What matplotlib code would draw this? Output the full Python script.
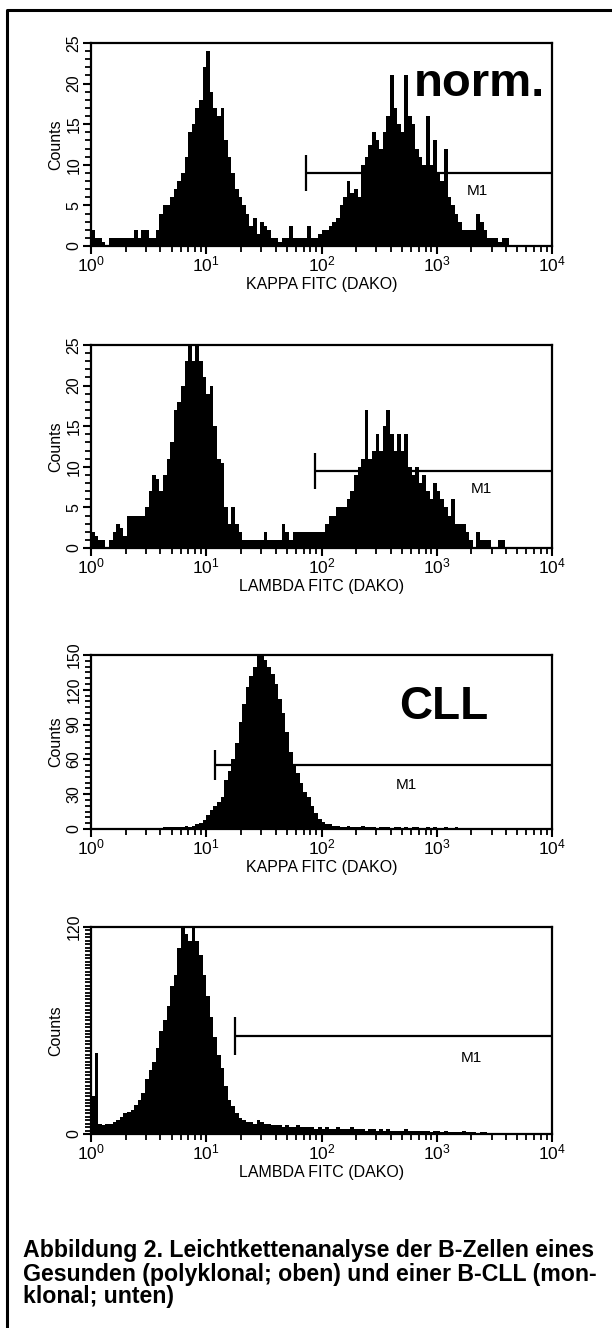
import numpy as np
import matplotlib
matplotlib.use('Agg')
import matplotlib.pyplot as plt
from matplotlib.lines import Line2D
from matplotlib import font_manager
from matplotlib.ticker import FixedLocator, MultipleLocator, LogLocator, NullFormatter

plt.rcParams['font.family'] = ['Liberation Sans', 'DejaVu Sans']
plt.rcParams['mathtext.fontset'] = 'custom'
plt.rcParams['mathtext.rm'] = 'Liberation Sans'
plt.rcParams['mathtext.it'] = 'Liberation Sans'
plt.rcParams['mathtext.bf'] = 'Liberation Sans:bold'

# histogram counts, 128 channels over 10^0 .. 10^4 (32 per decade)
kappa_norm = [2, 1, 1, 0.5, 0, 1, 1, 1, 1, 1,
              1, 1, 2, 1, 2, 2, 1, 1, 2, 4,
              5, 5, 6, 7, 8, 9, 11, 14, 15, 17,
              18, 22, 24, 19, 17, 16, 17, 13, 11, 9,
              7, 6, 5, 4, 2.5, 3.5, 1.5, 3, 2.5, 2,
              1, 1, 0.5, 1, 1, 2.5, 1, 1, 1, 1,
              2.5, 1, 1, 1.5, 2, 2, 2.5, 3, 3.5, 5,
              6, 8, 6.5, 7, 6, 10, 11, 12.5, 14, 13,
              12, 14, 16, 21, 17, 15, 14, 21, 16, 15,
              12, 11, 10, 16, 10, 13, 9, 8, 12, 6,
              5, 4, 3, 2, 2, 2, 2, 4, 3, 2,
              1, 1, 1, 0.5, 1, 1, 0, 0, 0, 0,
              0, 0, 0, 0, 0, 0, 0, 0]
lambda_norm = [2, 1.5, 1, 1, 0, 1, 2, 3, 2.5, 1.5,
               4, 4, 4, 4, 4, 5, 7, 9, 8.5, 7,
               9, 11, 13, 17, 18, 20, 23, 25, 23, 25,
               23, 21, 19, 20, 15, 11, 10.5, 5, 3, 5,
               3, 2, 1, 1, 1, 1, 1, 1, 2, 1,
               1, 1, 1, 3, 2, 1, 2, 2, 2, 2,
               2, 2, 2, 2, 2, 3, 4, 4, 5, 5,
               5, 6, 7, 9, 10, 11, 17, 11, 12, 14,
               12, 15, 17, 14, 12, 14, 12, 14, 10, 9,
               10, 8, 9, 7, 6, 8, 7, 6, 5, 4,
               6, 3, 3, 3, 2, 1, 0, 2, 1, 1,
               1, 0, 0, 1, 1, 0, 0, 0, 0, 0,
               0, 0, 0, 0, 0, 0, 0, 0]
kappa_cll = [0, 0, 0, 0, 0, 0, 0, 0, 0, 0,
             0, 0, 0, 0, 0, 0, 1, 0.5, 1, 1,
             2, 1.5, 2, 2, 2, 2, 2.5, 2, 3, 4,
             5, 8, 12, 16, 20, 23, 28, 42, 50, 60,
             74, 92, 108, 122, 132, 140, 150, 152, 146, 140,
             134, 125, 112, 100, 84, 66, 56, 48, 40, 32,
             28, 20, 14, 9, 6, 4, 4, 3, 3, 2,
             2, 3, 2, 2, 2, 3, 2, 2, 2, 1,
             2, 2, 2, 1, 2, 2, 1, 2, 1, 2,
             2, 1, 1, 2, 1, 2, 1, 1, 2, 1,
             1, 2, 1, 1, 1, 1, 1, 1, 1, 0.5,
             1, 0, 0, 0, 0, 0, 0, 0, 0, 0,
             0, 0, 0, 0, 0, 0, 0, 0]
lambda_cll = [22, 47, 6, 5, 6, 6, 7, 8, 10, 12,
              13, 14, 17, 20, 24, 32, 37, 42, 50, 60,
              66, 74, 86, 92, 108, 120, 116, 112, 120, 112,
              104, 92, 80, 68, 56, 46, 38, 28, 20, 16,
              12, 9, 8, 7, 7, 6, 8, 7, 6, 6,
              5, 5, 5, 4, 5, 4, 4, 5, 4, 4,
              4, 4, 3, 4, 3, 4, 3, 3, 4, 3,
              3, 3, 4, 3, 3, 3, 2, 3, 3, 2,
              3, 2, 3, 2, 2, 2, 2, 3, 2, 2,
              2, 2, 2, 2, 1, 2, 2, 1, 2, 1,
              1, 1, 1, 2, 1, 1, 1, 0.5, 1, 1,
              0.5, 0.5, 0.5, 0.5, 0.5, 0, 0, 0, 0, 0,
              0, 0, 0, 0, 0, 0, 0, 0]

x_labels = ['KAPPA FITC (DAKO)', 'LAMBDA FITC (DAKO)', 'KAPPA FITC (DAKO)', 'LAMBDA FITC (DAKO)']
y_max = [25, 25, 150, 120]
y_major = [[0, 5, 10, 15, 20, 25], [0, 5, 10, 15, 20, 25], [0, 30, 60, 90, 120, 150], [0, 120]]
y_minor = [1, 1, 5, 2]
m1_start = [74, 87, 11.8, 17.8]
m1_level = [9, 9.5, 55, 57]
m1_half = [2.2, 2.2, 13, 11]
corner_text = ['norm.', None, 'CLL', None]
caption = ['Abbildung 2. Leichtkettenanalyse der B-Zellen eines',
           'Gesunden (polyklonal; oben) und einer B-CLL (mon-',
           'klonal; unten)']

# layout in pixels (top, bottom) of each axes
W, H = 612, 1328
ax_px = [(43, 246), (345, 548), (655, 829), (927, 1134)]
ax_left, ax_right = 91, 552
m1_text_pos = [(2250, 6.8), (2450, 7.3), (540, 38), (2000, 44)]

fig = plt.figure(figsize=(W / 100., H / 100.), dpi=100)
hists = [kappa_norm, lambda_norm, kappa_cll, lambda_cll]
edges = np.logspace(0, 4, 129)

for k in range(4):
	top, bot = ax_px[k]
	ax = fig.add_axes([ax_left / W, 1 - bot / H, (ax_right - ax_left) / W, (bot - top) / H])
	ax.stairs(hists[k], edges, fill=True, color='black', linewidth=0)
	ax.set_xscale('log')
	ax.set_xlim(1, 1e4)
	ax.set_ylim(0, y_max[k])
	for s in ax.spines.values():
		s.set_linewidth(1.6)
	ax.xaxis.set_major_locator(FixedLocator([1, 10, 100, 1000, 10000]))
	ax.xaxis.set_minor_locator(LogLocator(base=10, subs=np.arange(2, 10), numticks=20))
	ax.xaxis.set_minor_formatter(NullFormatter())
	ax.set_xticklabels([r'$10^{0}$', r'$10^{1}$', r'$10^{2}$', r'$10^{3}$', r'$10^{4}$'])
	ax.set_yticks(y_major[k])
	ax.yaxis.set_minor_locator(MultipleLocator(y_minor[k]))
	ax.tick_params(which='major', direction='out', length=6, width=1.5, labelsize=11.5, pad=1)
	ax.tick_params(which='minor', direction='out', length=4, width=1.3)
	ax.tick_params(axis='x', which='major', labelsize=12.5, pad=0)
	plt.setp(ax.get_yticklabels(), rotation=90, va='center')
	ax.set_xlabel(x_labels[k], fontsize=11.5, labelpad=2)
	ax.set_ylabel('Counts', fontsize=11.5, labelpad=2)
	# M1 marker
	ax.hlines(m1_level[k], m1_start[k], 1e4, color='black', linewidth=1.6)
	ax.vlines(m1_start[k], m1_level[k] - m1_half[k], m1_level[k] + m1_half[k], color='black', linewidth=1.6)
	ax.text(m1_text_pos[k][0], m1_text_pos[k][1], 'M1', fontsize=11, ha='center', va='center')
	if corner_text[k] == 'norm.':
		ax.text(0.985, 0.74, 'norm.', transform=ax.transAxes, ha='right', va='baseline', fontsize=34, fontweight='bold')
	elif corner_text[k] == 'CLL':
		ax.text(0.668, 0.63, 'CLL', transform=ax.transAxes, ha='left', va='baseline', fontsize=33, fontweight='bold')

# frame round the figure (right and bottom edges are cut off)
fig.add_artist(Line2D([7 / W, 7 / W, 1.0], [0.0, 1 - 10 / H, 1 - 10 / H], transform=fig.transFigure, color='black', linewidth=2.2))

# caption: narrow bold face if there is one, size fitted to the width of the first line
names = set(f.name for f in font_manager.fontManager.ttflist)
cap_family = ['Liberation Sans Narrow', 'Liberation Sans'] if 'Liberation Sans Narrow' in names else ['Liberation Sans']
cap_y = [1251, 1274, 1297]
t = fig.text(23 / W, 1 - cap_y[0] / H, caption[0], fontsize=14, fontweight='bold', va='center', family=cap_family)
fig.canvas.draw()
w = t.get_window_extent().width
fs = 14 * 574. / w
t.set_fontsize(fs)
for i in range(1, 3):
	fig.text(23 / W, 1 - cap_y[i] / H, caption[i], fontsize=fs, fontweight='bold', va='center', family=cap_family)

plt.savefig('out.png', dpi=100)
plt.close()
